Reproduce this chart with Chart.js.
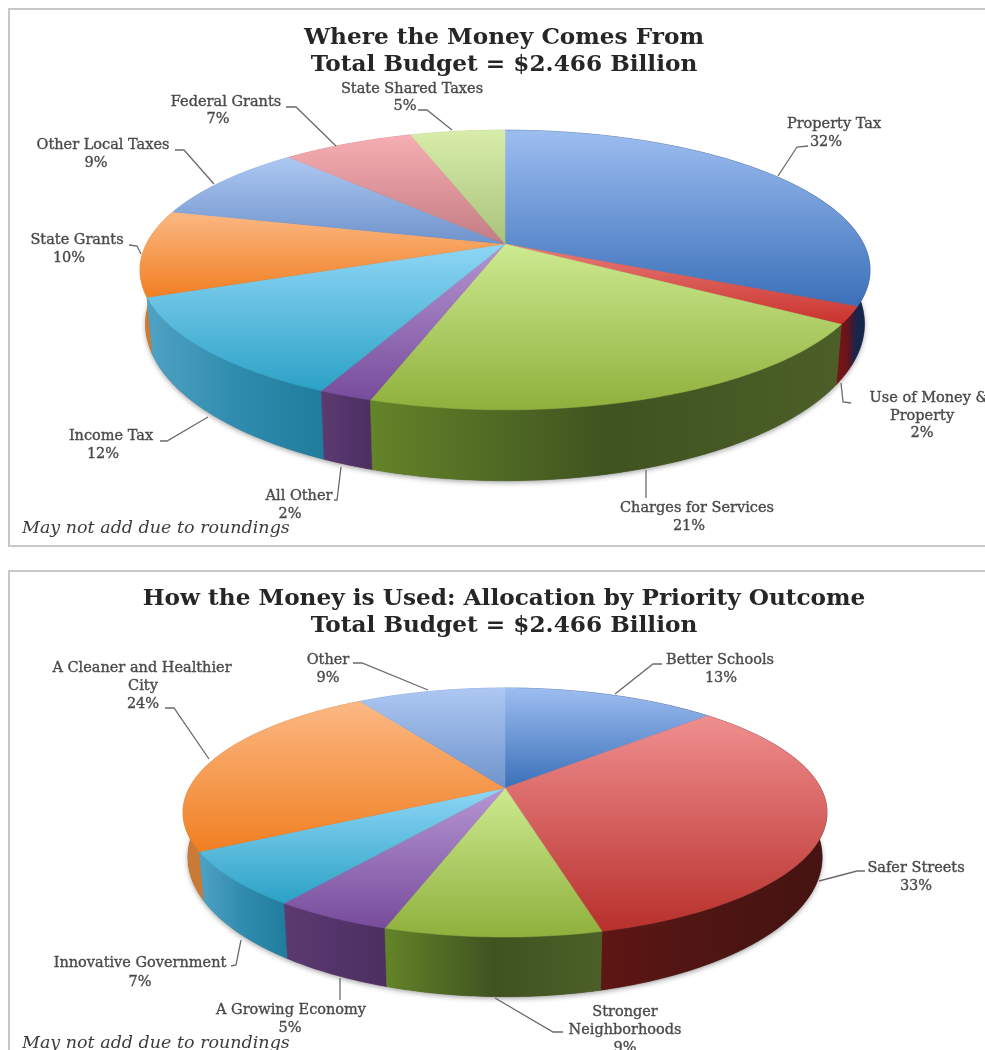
<!DOCTYPE html>
<html>
<head>
<meta charset="utf-8">
<title>Budget</title>
<script src="https://cdn.jsdelivr.net/npm/chart.js@4"></script>
<style>
    html, body { margin: 0; padding: 0; background: #fff; width: 985px; height: 1050px; overflow: hidden; }
    .frame { position: absolute; left: 8px; width: 1000px; border: 2px solid #c8c8c8; box-sizing: border-box; }
    canvas { position: absolute; left: 20px; filter: blur(0.7px); }
</style>
</head>
<body>
<div class="frame" style="top:8px;height:539px"></div>
<div class="frame" style="top:570px;height:520px"></div>
<canvas id="sourcesChart" width="968" height="560" style="top:0"></canvas>
<canvas id="usesChart" width="968" height="490" style="top:560px"></canvas>

<script>
// Where the money comes from
const sourceCategories = ['Property Tax', 'Use of Money &\nProperty', 'Charges for Services', 'All Other', 'Income Tax',
    'State Grants', 'Other Local Taxes', 'Federal Grants', 'State Shared Taxes'];
const sourceValues = [32, 2, 21, 2, 12, 10, 9, 7, 5];

// How the money is used
const useCategories = ['Better Schools', 'Safer Streets', 'Stronger\nNeighborhoods', 'A Growing Economy',
    'Innovative Government', 'A Cleaner and Healthier\nCity', 'Other'];
const useValues = [13, 33, 9, 5, 7, 24, 9];

const totalLine = 'Total Budget = $2.466 Billion';
const sourceTitle = ['Where the Money Comes From', totalLine];
const useTitle = ['How the Money is Used: Allocation by Priority Outcome', totalLine];
const footNote = 'May not add due to roundings';

// Slice colours: top surface gradient (light, deep) and wall gradient (left, middle, right)
const BLUE = { top: ['#9dbdf0', '#3a70b9'], wall: ['#26467e', '#1c3361', '#16264a'] };
const RED = { top: ['#ef8f8f', '#b8302c'], wall: ['#5e1614', '#4d1513', '#451311'] };
const DARKRED = { top: ['#e87c78', '#c9322c'], wall: ['#7a1616', '#6a1418', '#1a2050'] };
const GREEN = { top: ['#cdea90', '#8fb03c'], wall: ['#648428', '#3f5320', '#4c5f28'] };
const PURPLE = { top: ['#b596d2', '#774c9c'], wall: ['#5c3a70', '#53346a', '#4c2f60'] };
const CYAN = { top: ['#8fd6f6', '#2ba2c6'], wall: ['#4fa2c4', '#2f8cae', '#1f7c9c'] };
const ORANGE = { top: ['#fbb884', '#f17f22'], wall: ['#c87a38', '#d87a2a', '#c06a20'] };
const SOFTBLUE = { top: ['#adc8f2', '#6f93cc'], wall: ['#6f93cc', '#6f93cc', '#6f93cc'] };
const PINK = { top: ['#f6aeb2', '#c47c84'], wall: ['#c47c84', '#c47c84', '#c47c84'] };
const SOFTGREEN = { top: ['#d8edaa', '#a8c27c'], wall: ['#a8c27c', '#a8c27c', '#a8c27c'] };

const sourceColors = [BLUE, DARKRED, GREEN, PURPLE, CYAN, ORANGE, SOFTBLUE, PINK, SOFTGREEN];
const useColors = [BLUE, RED, GREEN, PURPLE, CYAN, ORANGE, SOFTBLUE];

// Label placing in page pixels: line y's, x centre of each line, leader line
const sourceLabels = [
    { x: [834, 826], y: [124, 142], line: [[808, 146], [797, 147], [778, 176]] },
    { x: [929, 922, 922], y: [398, 416, 433], line: [[841, 383], [843, 402], [851, 403]] },
    { x: [697, 689], y: [508, 526], line: [[646, 470], [646, 498]] },
    { x: [299, 290], y: [496, 514], line: [[341, 467], [337, 500], [334, 500]] },
    { x: [111, 103], y: [436, 454], line: [[208, 417], [167, 441], [160, 441]] },
    { x: [77, 69], y: [240, 258], line: [[129, 245], [137, 246], [141, 254]] },
    { x: [103, 96], y: [145, 163], line: [[175, 150], [184, 150], [214, 184]] },
    { x: [226, 218], y: [102, 119], line: [[286, 107], [296, 107], [336, 146]] },
    { x: [412, 405], y: [89, 106], line: [[418, 110], [427, 110], [452, 130]] }
];
const useLabels = [
    { x: [720, 721], y: [660, 678], line: [[662, 664], [653, 664], [615, 694]] },
    { x: [916, 916], y: [868, 886], line: [[865, 871], [857, 871], [819, 881]] },
    { x: [625, 625, 625], y: [1012, 1030, 1048], line: [[563, 1032], [553, 1032], [495, 998]] },
    { x: [291, 290], y: [1010, 1028], line: [[340, 978], [340, 1000]] },
    { x: [140, 140], y: [963, 982], line: [[241, 940], [236, 965], [231, 966]] },
    { x: [142, 143, 143], y: [668, 686, 704], line: [[165, 708], [174, 708], [209, 759]] },
    { x: [328, 328], y: [660, 678], line: [[353, 663], [362, 663], [428, 690]] }
];

const sourceShape = { cx: 505, cy: 244, rx: 358.6, ry: 135, k: 0.186, depth: 51, top: 0, titleTop: 24, noteY: 528 };
const useShape = { cx: 505, cy: 788, rx: 315.7, ry: 119.7, k: 0.197, depth: 42, top: 560, titleTop: 25, noteY: 1043 };

const CANVAS_LEFT = 20;
const labelFont = '14.5px "DejaVu Serif"';

function ringPoint(s, angle, lower) {
    const u = Math.cos(angle);
    const v = Math.sin(angle);
    const w = 1 - s.k * v;
    const shrink = lower ? 0.985 : 1;
    return {
        x: s.cx + s.rx * u / w * shrink,
        y: s.cy + s.ry * v / w + (lower ? s.depth / Math.pow(w, 1.6) : 0)
    };
}

function sampleRing(s, a0, a1, lower) {
    const pts = [];
    const steps = Math.max(2, Math.ceil((a1 - a0) / 0.015));
    for (let i = 0; i <= steps; i++) {
        pts.push(ringPoint(s, a0 + (a1 - a0) * i / steps, lower));
    }
    return pts;
}

function tracePoints(ctx, pts) {
    ctx.beginPath();
    pts.forEach((p, i) => i ? ctx.lineTo(p.x, p.y) : ctx.moveTo(p.x, p.y));
    ctx.closePath();
}

function drawWall(ctx, s, arc, colors) {
    const upper = sampleRing(s, arc.startAngle, arc.endAngle, false);
    const lower = sampleRing(s, arc.startAngle, arc.endAngle, true).reverse();
    const all = upper.concat(lower);
    const xs = all.map(p => p.x);
    const grad = ctx.createLinearGradient(Math.min(...xs), 0, Math.max(...xs), 0);
    grad.addColorStop(0, colors.wall[0]);
    grad.addColorStop(0.5, colors.wall[1]);
    grad.addColorStop(1, colors.wall[2]);
    tracePoints(ctx, all);
    ctx.fillStyle = grad;
    ctx.strokeStyle = grad;
    ctx.lineWidth = 0.5;
    ctx.fill();
    ctx.stroke();
}

function drawTop(ctx, s, arc, colors) {
    const rim = sampleRing(s, arc.startAngle, arc.endAngle, false);
    const all = [{ x: s.cx, y: s.cy }].concat(rim);
    const ys = all.map(p => p.y);
    const grad = ctx.createLinearGradient(0, Math.min(...ys), 0, Math.max(...ys));
    grad.addColorStop(0, colors.top[0]);
    grad.addColorStop(1, colors.top[1]);
    tracePoints(ctx, all);
    ctx.fillStyle = grad;
    ctx.strokeStyle = grad;
    ctx.lineWidth = 0.5;
    ctx.fill();
    ctx.stroke();
}

function drawLabel(ctx, text, spot) {
    ctx.strokeStyle = '#6a6a6a';
    ctx.lineWidth = 1.3;
    ctx.beginPath();
    spot.line.forEach((p, i) => i ? ctx.lineTo(p[0], p[1]) : ctx.moveTo(p[0], p[1]));
    ctx.stroke();
    ctx.fillStyle = '#4a4a4a';
    ctx.strokeStyle = '#4a4a4a';
    ctx.lineWidth = 0.35;
    ctx.font = labelFont;
    ctx.textAlign = 'center';
    ctx.textBaseline = 'middle';
    text.forEach((t, i) => {
        ctx.fillText(t, spot.x[i], spot.y[i]);
        ctx.strokeText(t, spot.x[i], spot.y[i]);
    });
}

// Chart.js only does circles, so the arcs it computes get redrawn as a tilted disc
const tiltedPie = {
    id: 'tiltedPie',
    beforeDatasetsDraw(chart, args, opts) {
        const ctx = chart.ctx;
        const s = opts.shape;
        const arcs = chart.getDatasetMeta(0).data;
        ctx.save();
        ctx.translate(-CANVAS_LEFT, -s.top);

        // soft shadow under the front rim
        ctx.save();
        ctx.shadowColor = 'rgba(60,60,60,0.45)';
        ctx.shadowBlur = 5;
        ctx.shadowOffsetY = 2;
        tracePoints(ctx, sampleRing(s, 0, Math.PI * 2, true));
        ctx.fillStyle = '#555';
        ctx.fill();
        ctx.restore();

        const order = arcs.map((a, i) => i).sort((a, b) =>
            Math.sin((arcs[a].startAngle + arcs[a].endAngle) / 2) - Math.sin((arcs[b].startAngle + arcs[b].endAngle) / 2));
        order.forEach(i => drawWall(ctx, s, arcs[i], opts.colors[i]));
        arcs.forEach((a, i) => drawTop(ctx, s, a, opts.colors[i]));

        chart.data.labels.forEach((name, i) => {
            const lines = name.split('\n').concat(chart.data.datasets[0].data[i] + '%');
            drawLabel(ctx, lines, opts.labels[i]);
        });

        ctx.fillStyle = '#3c3c3c';
        ctx.font = 'italic 17.5px "DejaVu Serif"';
        ctx.textAlign = 'left';
        ctx.textBaseline = 'middle';
        ctx.fillText(footNote, 22, s.noteY);
        ctx.restore();
        return false;
    }
};

function makeChart(id, title, labels, values, colors, spots, shape) {
    new Chart(document.getElementById(id), {
        type: 'pie',
        data: {
            labels: labels,
            datasets: [{ data: values, backgroundColor: colors.map(c => c.top[1]) }]
        },
        options: {
            responsive: false,
            animation: false,
            devicePixelRatio: 1,
            plugins: {
                legend: { display: false },
                tooltip: { enabled: false },
                title: {
                    display: true,
                    text: title,
                    color: '#262626',
                    font: { family: '"DejaVu Serif"', size: 23.2, weight: 'bold', lineHeight: 1.18 },
                    padding: { top: shape.titleTop, bottom: 0 }
                },
                tiltedPie: { shape: shape, colors: colors, labels: spots }
            }
        },
        plugins: [tiltedPie]
    });
}

makeChart('sourcesChart', sourceTitle, sourceCategories, sourceValues, sourceColors, sourceLabels, sourceShape);
makeChart('usesChart', useTitle, useCategories, useValues, useColors, useLabels, useShape);
</script>
</body>
</html>
